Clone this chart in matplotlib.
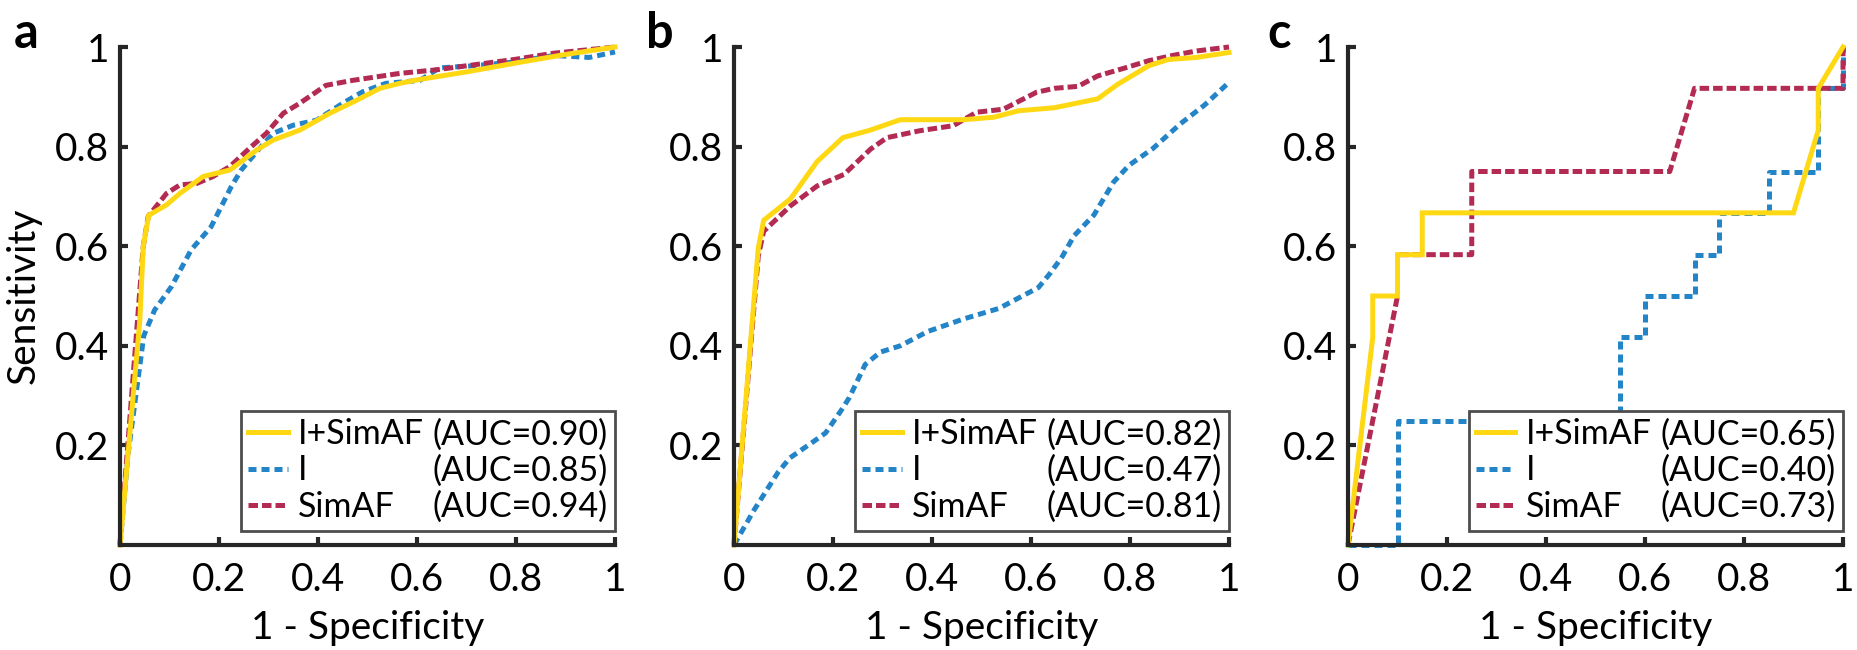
import matplotlib
matplotlib.use('Agg')
import matplotlib.pyplot as plt
from matplotlib.lines import Line2D

#%% Datos leidos de la figura
# panel a
a_fused_x = [0, 0.04, 0.047, 0.058, 0.094, 0.121, 0.168, 0.222, 0.276, 0.309, 0.363, 0.424, 0.478, 0.525, 0.565, 0.606, 0.7, 0.8, 0.9, 1.0]
a_fused_y = [0, 0.45, 0.6, 0.662, 0.683, 0.706, 0.74, 0.753, 0.793, 0.813, 0.833, 0.867, 0.893, 0.917, 0.927, 0.935, 0.95, 0.968, 0.985, 1.0]
a_lead_x = [0, 0.016, 0.032, 0.048, 0.07, 0.104, 0.144, 0.184, 0.225, 0.245, 0.285, 0.31, 0.35, 0.397, 0.45, 0.49, 0.537, 0.606, 0.645, 0.717, 0.797, 0.876, 0.948, 1.0]
a_lead_y = [0, 0.18, 0.30, 0.42, 0.472, 0.519, 0.593, 0.639, 0.72, 0.753, 0.80, 0.827, 0.843, 0.853, 0.887, 0.91, 0.927, 0.933, 0.958, 0.9625, 0.97, 0.983, 0.979, 0.99]
a_sim_x = [0, 0.047, 0.057, 0.094, 0.121, 0.155, 0.188, 0.222, 0.262, 0.296, 0.33, 0.363, 0.416, 0.47, 0.565, 0.637, 0.797, 0.876, 1.0]
a_sim_y = [0, 0.6, 0.66, 0.706, 0.723, 0.726, 0.74, 0.76, 0.797, 0.827, 0.867, 0.887, 0.923, 0.933, 0.947, 0.954, 0.975, 0.9875, 1.0]

# panel b
b_fused_x = [0, 0.049, 0.06, 0.114, 0.168, 0.22, 0.275, 0.336, 0.464, 0.525, 0.575, 0.647, 0.735, 0.775, 0.838, 0.878, 0.934, 1.0]
b_fused_y = [0, 0.596, 0.652, 0.695, 0.77, 0.818, 0.833, 0.854, 0.854, 0.859, 0.872, 0.878, 0.896, 0.925, 0.9625, 0.975, 0.979, 0.989]
b_lead_x = [0, 0.041, 0.089, 0.113, 0.161, 0.185, 0.217, 0.233, 0.265, 0.296, 0.336, 0.392, 0.464, 0.535, 0.615, 0.639, 0.663, 0.687, 0.727, 0.767, 0.798, 0.846, 0.902, 0.95, 1.0]
b_lead_y = [0, 0.071, 0.146, 0.175, 0.208, 0.225, 0.271, 0.296, 0.3625, 0.3875, 0.4, 0.429, 0.454, 0.475, 0.517, 0.546, 0.579, 0.621, 0.6625, 0.729, 0.7625, 0.796, 0.846, 0.883, 0.929]
b_sim_x = [0, 0.049, 0.06, 0.114, 0.168, 0.222, 0.276, 0.309, 0.376, 0.443, 0.49, 0.544, 0.611, 0.647, 0.695, 0.735, 0.79, 0.838, 0.886, 0.934, 1.0]
b_sim_y = [0, 0.58, 0.63, 0.681, 0.721, 0.744, 0.795, 0.818, 0.832, 0.842, 0.869, 0.875, 0.909, 0.917, 0.921, 0.942, 0.958, 0.9725, 0.983, 0.992, 1.0]

# panel c (escalones)
c_fused_x = [0, 0.05, 0.05, 0.1, 0.1, 0.15, 0.15, 0.9, 0.95, 0.95, 1.0]
c_fused_y = [0, 0.417, 0.5, 0.5, 0.583, 0.583, 0.667, 0.667, 0.833, 0.917, 1.0]
c_lead_x = [0, 0.1, 0.1, 0.55, 0.55, 0.6, 0.6, 0.7, 0.7, 0.75, 0.75, 0.85, 0.85, 0.95, 0.95, 1.0, 1.0]
c_lead_y = [0, 0, 0.25, 0.25, 0.417, 0.417, 0.5, 0.5, 0.583, 0.583, 0.667, 0.667, 0.75, 0.75, 0.917, 0.917, 1.0]
c_sim_x = [0, 0.1, 0.1, 0.25, 0.25, 0.65, 0.7, 1.0, 1.0]
c_sim_y = [0, 0.5, 0.583, 0.583, 0.75, 0.75, 0.917, 0.917, 1.0]

names = ['I+SimAF', 'I', 'SimAF']
auc_a = ['(AUC=0.90)', '(AUC=0.85)', '(AUC=0.94)']
auc_b = ['(AUC=0.82)', '(AUC=0.47)', '(AUC=0.81)']
auc_c = ['(AUC=0.65)', '(AUC=0.40)', '(AUC=0.73)']
panel_letters = ['a', 'b', 'c']
xticks = [0, 0.2, 0.4, 0.6, 0.8, 1]
xticklabels = ['0', '0.2', '0.4', '0.6', '0.8', '1']
yticks = [0.2, 0.4, 0.6, 0.8, 1]
yticklabels = ['0.2', '0.4', '0.6', '0.8', '1']

#%% Estilo
plt.rcParams['font.family'] = ['Lato', 'DejaVu Sans']
c_yel = '#FFD814'
c_blu = '#2384C8'
c_red = '#B32B52'
axc = '#262626'
fs = 28      # ticks y ejes
fs_leg = 24.5

panels = [
    (a_fused_x, a_fused_y, a_lead_x, a_lead_y, a_sim_x, a_sim_y, auc_a),
    (b_fused_x, b_fused_y, b_lead_x, b_lead_y, b_sim_x, b_sim_y, auc_b),
    (c_fused_x, c_fused_y, c_lead_x, c_lead_y, c_sim_x, c_sim_y, auc_c),
]
lefts = [120/1858, 734/1858, 1348/1858]
letter_x = [14, 646, 1267]

fig = plt.figure(figsize=(18.58, 6.5), dpi=100)

for i, p in enumerate(panels):
    fx, fy, lx, ly, sx, sy, aucs = p
    ax = fig.add_axes([lefts[i], 105/650, 495/1858, 498/650])

    l2, = ax.plot(lx, ly, color=c_blu, lw=3.6, linestyle=(0, (1.6, 1.0)), clip_on=False)
    l3, = ax.plot(sx, sy, color=c_red, lw=3.6, linestyle=(0, (1.9, 0.8)), clip_on=False)
    l1, = ax.plot(fx, fy, color=c_yel, lw=3.6, clip_on=False, solid_joinstyle='miter')

    ax.set_xlim(0, 1)
    ax.set_ylim(0, 1)
    ax.spines['top'].set_visible(False)
    ax.spines['right'].set_visible(False)
    for s in ['left', 'bottom']:
        ax.spines[s].set_linewidth(3)
        ax.spines[s].set_color(axc)
    ax.set_xticks(xticks)
    ax.set_xticklabels(xticklabels)
    ax.set_yticks(yticks)
    ax.set_yticklabels(yticklabels)
    ax.tick_params(direction='in', length=6, width=3, color=axc, labelsize=fs, labelcolor='black')
    ax.tick_params(axis='x', pad=12)
    ax.tick_params(axis='y', pad=8)

    ax.set_xlabel('1 - Specificity', fontsize=fs)
    ax.xaxis.set_label_coords(0.5, -0.13)
    if i == 0:
        ax.set_ylabel('Sensitivity', fontsize=fs)
        ax.yaxis.set_label_coords(-0.158, 0.5)

    # leyenda en dos columnas: nombre | AUC
    blank = [Line2D([], [], linestyle='none') for k in range(3)]
    leg = ax.legend([l1, l2, l3] + blank, names + aucs, ncol=2, loc='lower right',
                    bbox_to_anchor=(1.0, 0.029), borderaxespad=0, fontsize=fs_leg,
                    handlelength=1.15, handletextpad=0.3, columnspacing=-1.2,
                    labelspacing=0.12, borderpad=0.22, fancybox=False, framealpha=1)
    leg.get_frame().set_edgecolor('#4d4d4d')
    leg.get_frame().set_linewidth(2)

    fig.text(letter_x[i]/1858, 1 - 48/650, panel_letters[i], fontsize=35,
             fontweight='bold', va='baseline')

plt.savefig('out.png', dpi=100)
